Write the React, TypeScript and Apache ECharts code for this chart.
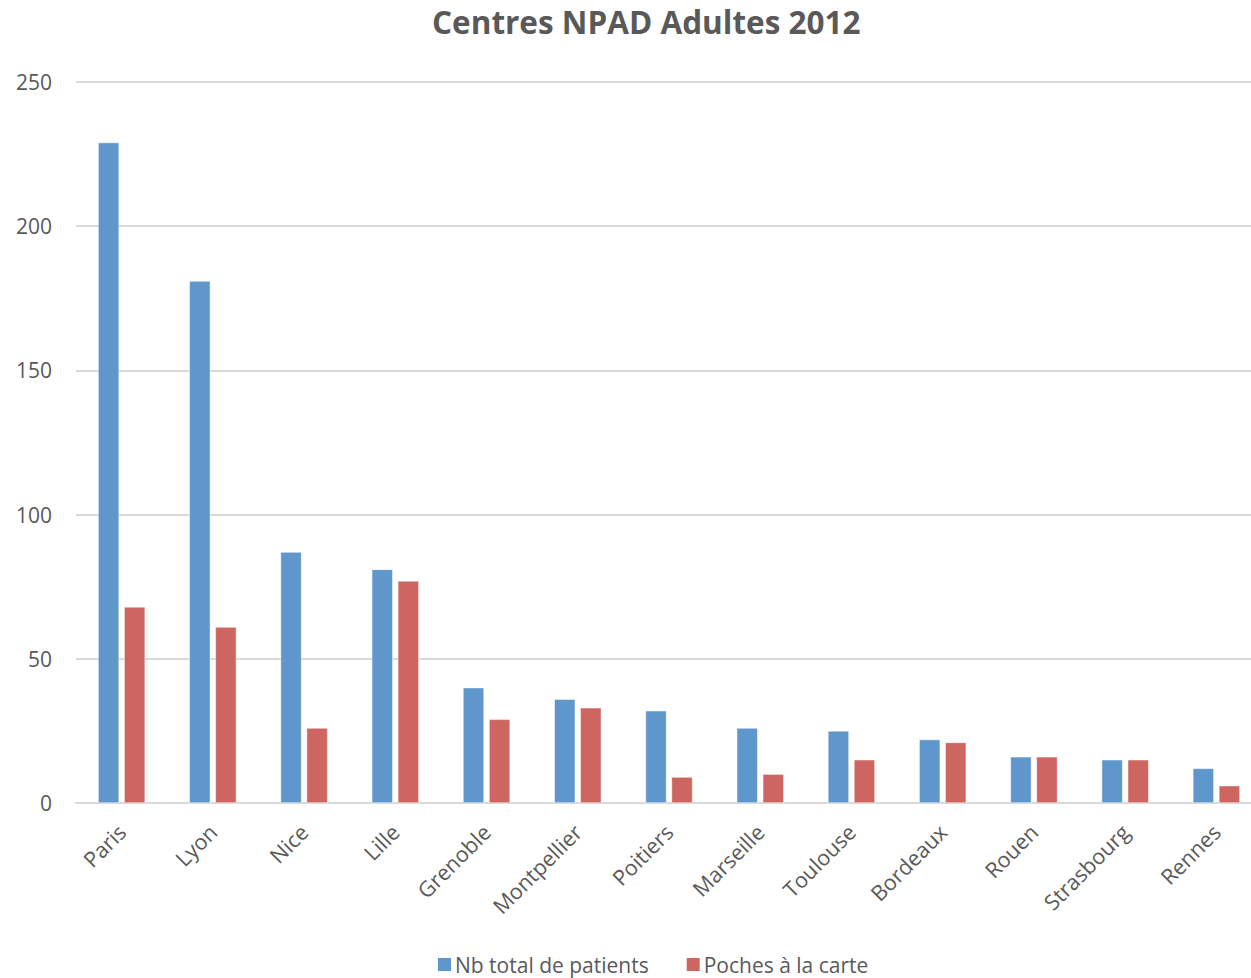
import React, { useEffect, useRef } from "react";
import * as echarts from "echarts";

const categories = ["Paris", "Lyon", "Nice", "Lille", "Grenoble", "Montpellier", "Poitiers", "Marseille", "Toulouse", "Bordeaux", "Rouen", "Strasbourg", "Rennes"];
const totalPatients = [229, 181, 87, 81, 40, 36, 32, 26, 25, 22, 16, 15, 12];
const pochesCarte = [68, 61, 26, 77, 29, 33, 9, 10, 15, 21, 16, 15, 6];
const seriesNames = ["Nb total de patients", "Poches à la carte"];
const titleText = "Centres NPAD Adultes 2012";

export default function App() {
  const ref = useRef<HTMLDivElement>(null);
  useEffect(() => {
    if (!ref.current) return;
    const chart = echarts.init(ref.current, null, { renderer: "svg" });
    const font = "'Open Sans', sans-serif";
    chart.setOption({
      animation: false,
      backgroundColor: "#ffffff",
      title: {
        text: titleText,
        left: 427,
        top: 0,
        textStyle: { fontFamily: font, fontSize: 31.5, fontWeight: "bold", color: "#595959" },
      },
      legend: {
        bottom: -2,
        left: 431,
        itemWidth: 15,
        itemHeight: 15,
        itemGap: 36,
        icon: "rect",
        textStyle: { fontFamily: font, fontSize: 21, color: "#595959", padding: [0, 0, 0, -2] },
        data: seriesNames,
      },
      grid: { left: 76, width: 1186, top: 82, bottom: 175, containLabel: false, outerBoundsMode: "none" },
      xAxis: {
        type: "category",
        data: categories,
        axisTick: { show: false },
        axisLine: { lineStyle: { color: "#D9D9D9", width: 2 } },
        axisLabel: {
          rotate: 45,
          interval: 0,
          margin: 25,
          fontFamily: font,
          fontSize: 21.5,
          color: "#595959",
        },
      },
      yAxis: {
        type: "value",
        min: 0,
        max: 250,
        interval: 50,
        axisLine: { show: false },
        axisTick: { show: false },
        splitLine: { lineStyle: { color: "#D9D9D9", width: 2 } },
        axisLabel: { margin: 24, fontFamily: font, fontSize: 21, color: "#595959" },
      },
      series: [
        {
          name: seriesNames[0],
          type: "bar",
          data: totalPatients,
          barWidth: 21,
          barGap: "24%",
          itemStyle: { color: "#5F96CB", borderColor: "#ffffff", borderWidth: 0.5 },
        },
        {
          name: seriesNames[1],
          type: "bar",
          data: pochesCarte,
          barWidth: 21,
          itemStyle: { color: "#CD6560", borderColor: "#ffffff", borderWidth: 0.5 },
        },
      ],
    });
    return () => chart.dispose();
  }, []);
  return <div ref={ref} style={{ position: "absolute", left: 0, top: 0, width: 1251, height: 978 }} />;
}
